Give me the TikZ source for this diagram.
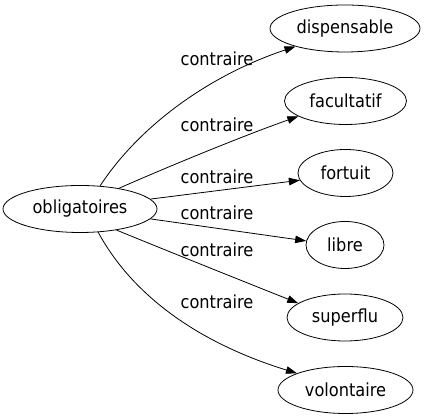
\documentclass[tikz,border=0pt]{standalone}
\usepackage{fontspec}
\setmainfont{DejaVu Sans Condensed}
\usetikzlibrary{shapes.geometric,arrows.meta}
\begin{document}
\begin{tikzpicture}[x=1pt,y=1pt,
  word/.style={ellipse,draw,line width=0.8pt,inner sep=0pt,minimum height=47pt,font=\fontsize{18}{21}\selectfont},
  rel/.style={font=\fontsize{18}{21}\selectfont,inner sep=0pt},
  edge/.style={line width=0.8pt,-{Triangle[length=11pt,width=7.5pt]}}]
\useasboundingbox (0,0) rectangle (426,419);
\node[word,minimum width=154pt] (o) at (80,210) {obligatoires};
\node[word,minimum width=150pt] (d1) at (345,390.5) {dispensable};
\node[word,minimum width=122pt] (d2) at (345.5,318) {facultatif};
\node[word,minimum width=95pt] (d3) at (345.5,246) {fortuit};
\node[word,minimum width=78pt] (d4) at (345,174) {libre};
\node[word,minimum width=116pt] (d5) at (345,101.5) {superflu};
\node[word,minimum width=135pt] (d6) at (345.5,29) {volontaire};
\draw[edge] (o.49) .. controls (140,294) and (210,344) .. (d1.200);
\draw[edge] (o.28) .. controls (165,251) and (240,282) .. (d2.198);
\draw[edge] (o.8) -- (d3.189);
\draw[edge] (o.352) -- (d4.174);
\draw[edge] (o.330) .. controls (165,169) and (240,139) .. (d5.163);
\draw[edge] (o.308) .. controls (135,119) and (205,74) .. (d6.161);
\node[rel] (l1) at (217,360) {contraire};
\node[rel] (l2) at (217,294) {contraire};
\node[rel] (l3) at (217,242) {contraire};
\node[rel] (l4) at (217,206) {contraire};
\node[rel] (l5) at (217,169) {contraire};
\node[rel] (l6) at (217,117) {contraire};
\end{tikzpicture}
\end{document}
